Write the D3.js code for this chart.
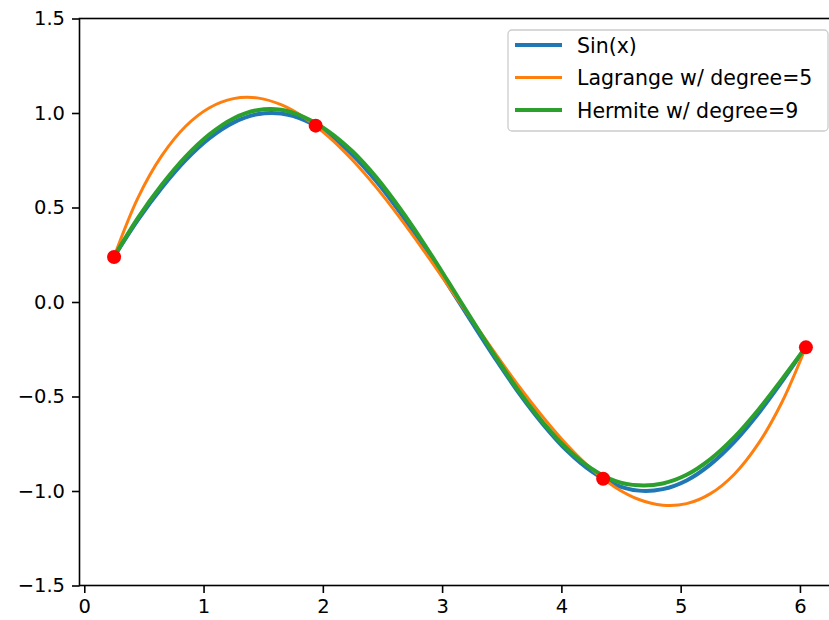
<!DOCTYPE html>
<html>
<head>
<meta charset="utf-8">
<script src="https://cdn.jsdelivr.net/npm/d3@7"></script>
<style>
  html, body { margin: 0; padding: 0; background: #ffffff; }
  text { font-family: "DejaVu Sans", sans-serif; fill: #000; }
</style>
</head>
<body>
<svg id="chart" width="829" height="620"></svg>
<script>
// ---- data ----
const xValues = [0.25, 0.45, 0.65, 0.85, 1.05, 1.25, 1.45, 1.65, 1.85, 2.05,
                 2.25, 2.45, 2.65, 2.85, 3.05, 3.25, 3.45, 3.65, 3.85, 4.05,
                 4.25, 4.45, 4.65, 4.85, 5.05, 5.25, 5.45, 5.65, 5.85, 6.05];
const sinValues = [0.240, 0.435, 0.605, 0.751, 0.867, 0.949, 0.993, 0.997, 0.961, 0.887,
                   0.778, 0.638, 0.472, 0.287, 0.091, -0.108, -0.303, -0.487, -0.650, -0.789,
                   -0.895, -0.966, -0.998, -0.990, -0.944, -0.859, -0.740, -0.591, -0.420, -0.238];
const lagrangeValues = [0.240, 0.551, 0.774, 0.930, 1.028, 1.076, 1.080, 1.044, 0.974, 0.874,
                        0.750, 0.605, 0.442, 0.268, 0.087, -0.096, -0.276, -0.451, -0.612, -0.758,
                        -0.882, -0.980, -1.045, -1.075, -1.067, -1.014, -0.911, -0.751, -0.529, -0.238];
const hermiteValues = [0.240, 0.445, 0.620, 0.769, 0.887, 0.971, 1.015, 1.017, 0.976, 0.902,
                       0.796, 0.658, 0.492, 0.307, 0.109, -0.093, -0.291, -0.477, -0.640, -0.777,
                       -0.880, -0.946, -0.970, -0.960, -0.914, -0.831, -0.715, -0.571, -0.408, -0.238];
const nodeX = [0.25, 1.94, 4.35, 6.05];
const nodeY = [0.238, 0.933, -0.935, -0.240];
const xTicks = [0, 1, 2, 3, 4, 5, 6];
const yTicks = [-1.5, -1.0, -0.5, 0.0, 0.5, 1.0, 1.5];
const seriesNames = ["Sin(x)", "Lagrange w/ degree=5", "Hermite w/ degree=9"];
const seriesColors = ["#1f77b4", "#ff7f0e", "#2ca02c"];

(function draw() {
  const svg = d3.select("#chart");
  const pL = 79.5, pR = 840.5, pT = 18.5, pB = 585.5;
  const x = d3.scaleLinear().domain([-0.04, 6.34]).range([pL, pR]);
  const y = d3.scaleLinear().domain([-1.5, 1.5]).range([pB, pT]);
  const fontSize = 19.5;

  const series = [sinValues, lagrangeValues, hermiteValues];
  const widths = [4, 3, 4];
  const line = d3.line().curve(d3.curveCatmullRom.alpha(0.5)).x(d => x(d[0])).y(d => y(d[1]));
  series.forEach((vals, i) => {
    svg.append("path")
      .datum(xValues.map((xv, j) => [xv, vals[j]]))
      .attr("d", line)
      .attr("fill", "none")
      .attr("stroke", seriesColors[i])
      .attr("stroke-width", widths[i])
      .attr("stroke-linejoin", "round")
      .attr("stroke-linecap", "butt");
  });

  svg.selectAll("circle.node")
    .data(nodeX.map((xv, i) => [xv, nodeY[i]]))
    .enter().append("circle")
    .attr("class", "node")
    .attr("cx", d => x(d[0]))
    .attr("cy", d => y(d[1]))
    .attr("r", 7)
    .attr("fill", "#ff0000");

  svg.append("rect")
    .attr("x", pL).attr("y", pT)
    .attr("width", pR - pL).attr("height", pB - pT)
    .attr("fill", "none").attr("stroke", "#000").attr("stroke-width", 1.6);

  const xAxis = d3.axisBottom(x).tickValues(xTicks).tickFormat(d3.format("d"))
    .tickSize(7.5).tickPadding(6);
  const gx = svg.append("g").attr("transform", `translate(0,${pB})`).call(xAxis);
  gx.select(".domain").remove();
  gx.selectAll(".tick line").attr("stroke", "#000").attr("stroke-width", 1.6);
  gx.selectAll(".tick text").attr("font-size", fontSize).attr("font-family", "DejaVu Sans").attr("fill", "#000");

  const yAxis = d3.axisLeft(y).tickValues(yTicks)
    .tickFormat(d => d3.format(".1f")(d).replace("-", "\u2212"))
    .tickSize(7.5).tickPadding(7);
  const gy = svg.append("g").attr("transform", `translate(${pL},0)`).call(yAxis);
  gy.select(".domain").remove();
  gy.selectAll(".tick line").attr("stroke", "#000").attr("stroke-width", 1.6);
  gy.selectAll(".tick text").attr("font-size", fontSize).attr("font-family", "DejaVu Sans").attr("fill", "#000");

  const lg = svg.append("g");
  lg.append("rect")
    .attr("x", 508).attr("y", 30).attr("width", 320).attr("height", 101)
    .attr("rx", 4).attr("ry", 4)
    .attr("fill", "#fff").attr("fill-opacity", 0.8)
    .attr("stroke", "#cccccc").attr("stroke-width", 1.3);
  seriesNames.forEach((name, i) => {
    const cy = 45 + i * 32.5;
    lg.append("line")
      .attr("x1", 515).attr("x2", 562)
      .attr("y1", cy).attr("y2", cy)
      .attr("stroke", seriesColors[i]).attr("stroke-width", widths[i]);
    lg.append("text")
      .attr("x", 577).attr("y", cy + 7.5)
      .attr("font-size", 20.5)
      .text(name);
  });
})();
</script>
</body>
</html>
